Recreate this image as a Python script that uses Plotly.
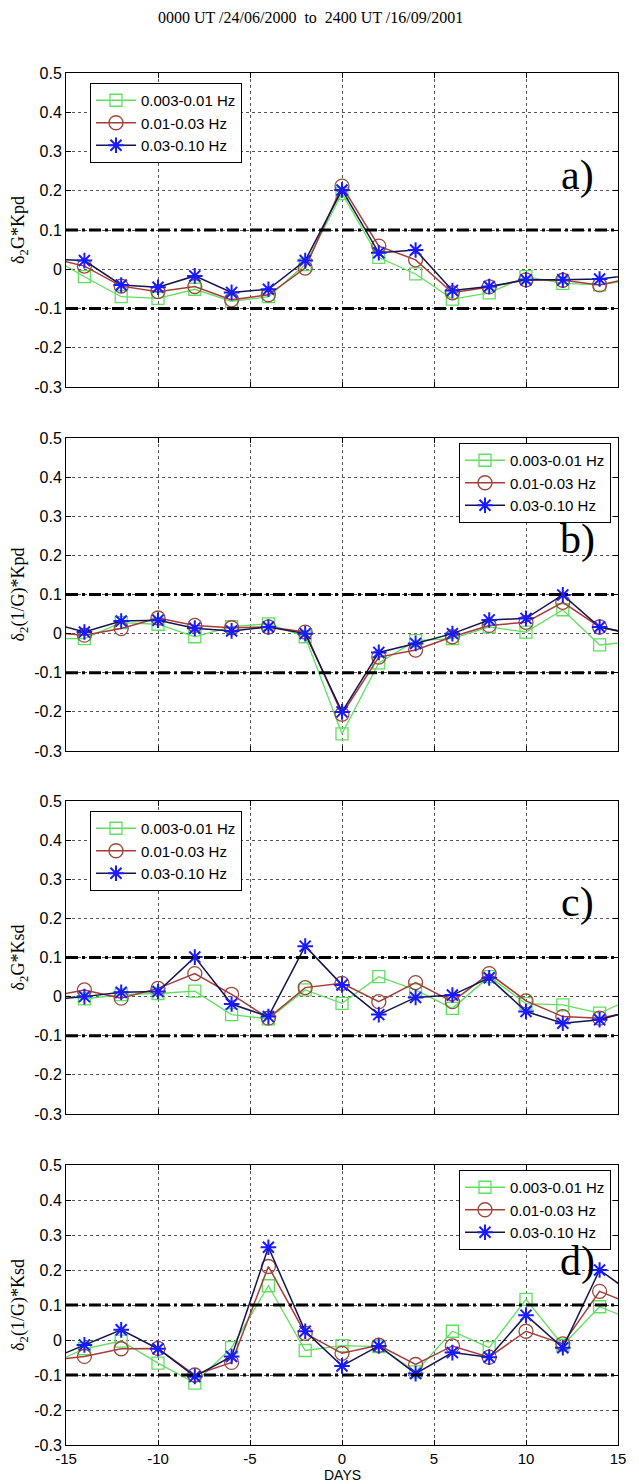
import plotly.graph_objects as go

# ---------------- data ----------------
DAYS = [-16, -14, -12, -10, -8, -6, -4, -2, 0, 2, 4, 6, 8, 10, 12, 14, 16]
SERIES_NAMES = ["0.003-0.01 Hz", "0.01-0.03 Hz", "0.03-0.10 Hz"]

A_LOW = [0.035, -0.019, -0.070, -0.074, -0.051, -0.082, -0.070, 0.012, 0.193, 0.030, -0.012, -0.076, -0.060, -0.019, -0.036, -0.040, -0.025]
A_MID = [0.030, 0.008, -0.043, -0.057, -0.044, -0.078, -0.065, 0.003, 0.212, 0.059, 0.024, -0.060, -0.045, -0.027, -0.028, -0.040, -0.020]
A_HIGH = [0.026, 0.022, -0.040, -0.046, -0.017, -0.059, -0.051, 0.022, 0.202, 0.042, 0.049, -0.054, -0.044, -0.027, -0.027, -0.025, -0.013]

B_LOW = [-0.013, -0.013, 0.028, 0.024, -0.008, 0.018, 0.025, -0.008, -0.256, -0.075, -0.018, -0.013, 0.017, 0.004, 0.061, -0.029, -0.019]
B_MID = [0.004, -0.004, 0.013, 0.040, 0.021, 0.015, 0.017, 0.004, -0.206, -0.060, -0.042, -0.008, 0.021, 0.029, 0.080, 0.017, -0.003]
B_HIGH = [0.030, 0.004, 0.032, 0.034, 0.014, 0.007, 0.017, 0.000, -0.200, -0.048, -0.025, 0.000, 0.035, 0.039, 0.099, 0.017, -0.003]

C_LOW = [0.010, -0.006, 0.005, 0.008, 0.014, -0.046, -0.057, 0.017, -0.017, 0.051, 0.017, -0.030, 0.051, -0.018, -0.021, -0.042, 0.000]
C_MID = [-0.001, 0.017, -0.004, 0.021, 0.059, 0.006, -0.055, 0.023, 0.034, -0.013, 0.036, -0.013, 0.059, -0.011, -0.051, -0.055, -0.037]
C_HIGH = [-0.008, 0.000, 0.011, 0.013, 0.101, -0.019, -0.051, 0.129, 0.030, -0.046, -0.002, 0.004, 0.048, -0.038, -0.068, -0.059, -0.033]

D_LOW = [-0.073, -0.025, -0.003, -0.066, -0.123, -0.022, 0.155, -0.030, -0.016, -0.019, -0.091, 0.025, -0.022, 0.116, -0.015, 0.095, 0.053]
D_MID = [-0.059, -0.047, -0.025, -0.024, -0.100, -0.064, 0.210, 0.019, -0.038, -0.015, -0.070, -0.017, -0.049, 0.025, -0.011, 0.139, 0.097]
D_HIGH = [-0.058, -0.014, 0.029, -0.025, -0.104, -0.047, 0.265, 0.025, -0.074, -0.017, -0.096, -0.036, -0.049, 0.071, -0.022, 0.200, 0.124]

PANEL_LABELS = ["a)", "b)", "c)", "d)"]
Y_TITLES = ["δ<sub>2</sub>G*Kpd", "δ<sub>2</sub>(1/G)*Kpd", "δ<sub>2</sub>G*Ksd", "δ<sub>2</sub>(1/G)*Ksd"]
THRESHOLDS = [0.1, -0.1]
Y_TICKS = [-0.3, -0.2, -0.1, 0, 0.1, 0.2, 0.3, 0.4, 0.5]
Y_TICK_TEXT = ["-0.3", "-0.2", "-0.1", "0", "0.1", "0.2", "0.3", "0.4", "0.5"]
X_TICKS = [-15, -10, -5, 0, 5, 10, 15]
X_TICK_TEXT = ["-15", "-10", "-5", "0", "5", "10", "15"]
TITLE = "0000 UT /24/06/2000\u00a0\u00a0to\u00a0\u00a02400 UT /16/09/2001"
X_TITLE = "DAYS"

PANELS = [
    (A_LOW, A_MID, A_HIGH),
    (B_LOW, B_MID, B_HIGH),
    (C_LOW, C_MID, C_HIGH),
    (D_LOW, D_MID, D_HIGH),
]

# ---------------- layout / style ----------------
W, H = 639, 1484
X_LEFT, X_RIGHT = 58, 610
PANEL_PX = [(65, 379), (430, 743), (793, 1106), (1157, 1437)]
LEGEND_SIDE = ["left", "right", "left", "right"]
LABEL_Y = [0.24, 0.24, 0.24, 0.225]

STYLES = [
    dict(line=dict(color="#5ee05e", width=1.3),
         marker=dict(symbol="square-open", size=12, color="#5ee05e", line=dict(width=1.3))),
    dict(line=dict(color="#a83a3a", width=1.5),
         marker=dict(symbol="circle-open", size=14, color="#9a4a3a", line=dict(width=1.3))),
    dict(line=dict(color="#14144e", width=1.5),
         marker=dict(symbol="asterisk-open", size=13, color="#1a1aff", line=dict(width=2, color="#1a1aff"))),
]

SANS = "Liberation Sans, Arial, sans-serif"
SERIF = "Liberation Serif, Times New Roman, serif"

fig = go.Figure()
layout = dict(
    width=W, height=H,
    margin=dict(l=0, r=0, t=0, b=0),
    paper_bgcolor="white", plot_bgcolor="white",
    showlegend=True,
    font=dict(family=SANS, size=16, color="black"),
)

shapes = []
annotations = []

for i, series in enumerate(PANELS):
    n = "" if i == 0 else str(i + 1)
    xa, ya = "x" + n, "y" + n
    legend_name = "legend" + n
    for j, vals in enumerate(series):
        st = STYLES[j]
        fig.add_trace(go.Scatter(
            x=DAYS, y=vals, mode="lines+markers", name=SERIES_NAMES[j],
            line=st["line"], marker=st["marker"],
            xaxis=xa, yaxis=ya, legend=legend_name,
        ))
    top, bot = PANEL_PX[i]
    ydom = [1 - bot / H, 1 - top / H]
    xdom = [X_LEFT / W, X_RIGHT / W]
    last = i == len(PANELS) - 1
    layout["xaxis" + n] = dict(
        domain=xdom, range=[-15, 15], anchor=ya,
        tickmode="array", tickvals=X_TICKS, ticktext=X_TICK_TEXT,
        showticklabels=last, ticks="inside", ticklen=5, tickcolor="black",
        showline=True, linecolor="black", linewidth=1, mirror="ticks",
        showgrid=True, gridcolor="#555", griddash="dot", gridwidth=1,
        zeroline=False, tickfont=dict(family=SANS, size=15),
        automargin=False,
    )
    layout["yaxis" + n] = dict(
        domain=ydom, range=[-0.3, 0.5], anchor=xa,
        tickmode="array", tickvals=Y_TICKS, ticktext=Y_TICK_TEXT,
        ticks="inside", ticklen=5, tickcolor="black",
        showline=True, linecolor="black", linewidth=1, mirror="ticks",
        showgrid=True, gridcolor="#555", griddash="dot", gridwidth=1,
        zeroline=False, tickfont=dict(family=SANS, size=16),
        title=dict(text=Y_TITLES[i], font=dict(family=SERIF, size=18), standoff=4),
        automargin=False,
    )
    for thr in THRESHOLDS:
        shapes.append(dict(type="line", xref=xa + " domain", yref=ya,
                           x0=0, x1=1, y0=thr, y1=thr,
                           line=dict(color="black", width=3, dash="12px,4px,3px,4px")))
    annotations.append(dict(text=PANEL_LABELS[i], xref=xa, yref=ya, x=12.8, y=LABEL_Y[i],
                            showarrow=False, font=dict(family=SERIF, size=42, color="black")))
    if LEGEND_SIDE[i] == "left":
        lx, xanchor, dy = (X_LEFT + 24) / W, "left", 10
    else:
        lx, xanchor, dy = (X_RIGHT - 7) / W, "right", 5
    layout[legend_name] = dict(
        x=lx, y=1 - (top + dy) / H, xanchor=xanchor, yanchor="top",
        bgcolor="white", bordercolor="black", borderwidth=1,
        font=dict(family=SANS, size=15), tracegroupgap=0, itemwidth=40,
    )

annotations.append(dict(text=TITLE, xref="paper", yref="paper", x=302 / W,
                        y=1 - 10 / H, xanchor="center", yanchor="middle", showarrow=False,
                        font=dict(family=SERIF, size=16, color="black")))
annotations.append(dict(text=X_TITLE, xref="paper", yref="paper", x=(X_LEFT + X_RIGHT) / 2 / W,
                        y=1 - 1467 / H, xanchor="center", yanchor="middle", showarrow=False,
                        font=dict(family=SANS, size=14, color="black")))
layout["shapes"] = shapes
layout["annotations"] = annotations
fig.update_layout(**layout)
fig.write_html("out.html")
